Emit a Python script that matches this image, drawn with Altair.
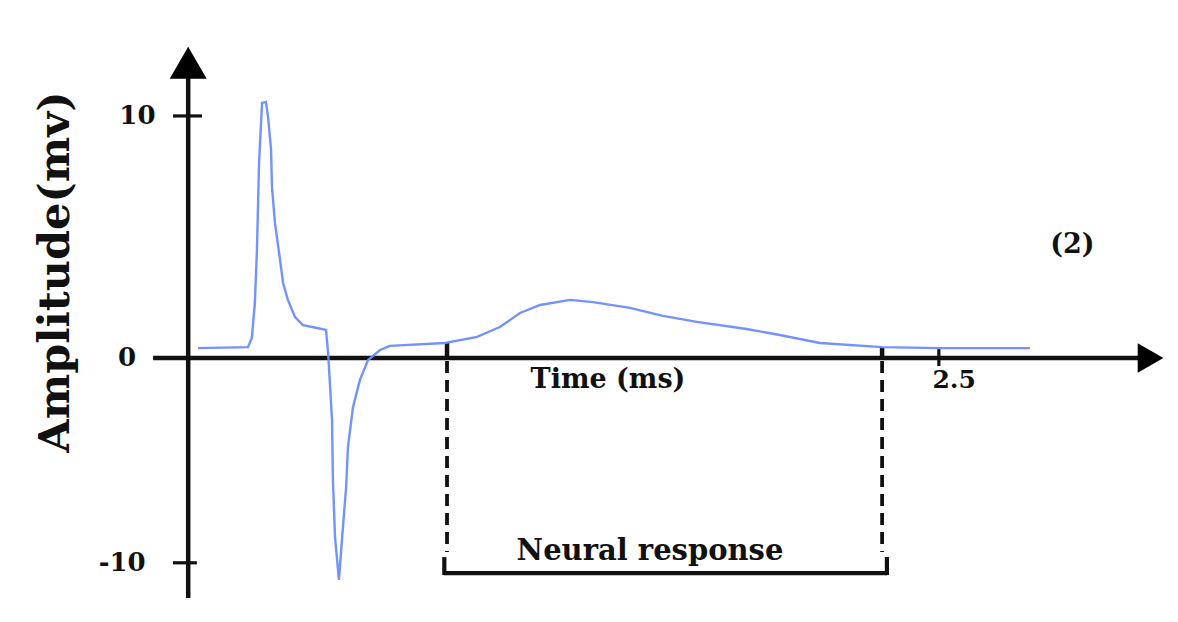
import altair as alt
import pandas as pd

# ---- data ----
time_ms = [0.033, 0.199, 0.212, 0.222, 0.229, 0.236, 0.246, 0.259, 0.266, 0.276,
           0.279, 0.289, 0.306, 0.316, 0.332, 0.356, 0.382, 0.429, 0.459, 0.466,
           0.479, 0.482, 0.489, 0.502, 0.512, 0.526, 0.532, 0.549, 0.572, 0.599,
           0.639, 0.672, 0.855, 0.962, 1.038, 1.105, 1.172, 1.272, 1.348, 1.471,
           1.581, 1.694, 1.860, 1.970, 2.104, 2.311, 2.504, 2.803]
amplitude_mv = [0.41, 0.45, 0.83, 2.27, 4.46, 8.06, 10.54, 10.58, 9.96, 8.60,
                7.07, 5.58, 4.05, 3.10, 2.40, 1.69, 1.36, 1.24, 1.16, 0.21,
                -3.03, -5.96, -8.74, -10.84, -8.89, -6.30, -4.35, -2.39, -1.07, -0.10,
                0.33, 0.50, 0.62, 0.87, 1.28, 1.86, 2.19, 2.40, 2.31, 2.07,
                1.74, 1.49, 1.20, 0.95, 0.62, 0.45, 0.41, 0.41]

y_tick_values = [10, 0, -10]
y_tick_labels = ["10", "0", "-10"]
x_tick_values = [2.5]
x_tick_labels = ["2.5"]
response_start_ms = 0.862
response_end_ms = 2.311

W, H = 1162, 606
XS = alt.Scale(domain=[-0.6001, 3.2698], nice=False, zero=False)
YS = alt.Scale(domain=[-12.5, 0, 14.46], range=[H, 350, 0], nice=False, zero=False)
INK = "#111111"
FONT = "DejaVu Serif"


def segments(rows, width, dash=None, color=INK):
    df = pd.DataFrame(rows, columns=["x", "x2", "y", "y2"])
    kw = dict(color=color, strokeWidth=width, strokeCap="butt")
    if dash:
        kw["strokeDash"] = dash
    return alt.Chart(df).mark_rule(**kw).encode(
        x=alt.X("x:Q", scale=XS, axis=None),
        x2="x2:Q",
        y=alt.Y("y:Q", scale=YS, axis=None),
        y2="y2:Q",
    )


def texts(rows, size, angle=0, color=INK):
    df = pd.DataFrame(rows, columns=["x", "y", "t"])
    return alt.Chart(df).mark_text(
        font=FONT, fontWeight="bold", fontSize=size, color=color,
        align="center", baseline="middle", angle=angle,
    ).encode(
        x=alt.X("x:Q", scale=XS, axis=None),
        y=alt.Y("y:Q", scale=YS, axis=None),
        text="t:N",
    )


# axes lines
axes = segments([[0, 0, -11.72, 11.7], [-0.117, 3.19, 0, 0]], 4.5)
# tick marks
ticks = segments(
    [[-0.0506, 0.046, y_tick_values[0], y_tick_values[0]],
     [-0.0506, 0.029, y_tick_values[2], y_tick_values[2]]]
    + [[v, v, 0.37, -0.39] for v in x_tick_values], 3.2)
# short solid marks where the response window meets the curve
marks_top = segments(
    [[response_start_ms, response_start_ms, 0, 0.62],
     [response_end_ms, response_end_ms, 0, 0.45]], 4.5)
# dashed verticals
dashed = segments(
    [[response_start_ms, response_start_ms, -0.15, -9.47],
     [response_end_ms, response_end_ms, -0.15, -9.47]], 3.8, dash=[12, 7])
# bracket
bl, br = response_start_ms - 0.009, response_end_ms + 0.016
bracket = segments(
    [[bl, br, -10.5, -10.5], [bl, bl, -9.72, -10.6], [br, br, -9.72, -10.6]], 4.2)

signal = alt.Chart(pd.DataFrame({"t": time_ms, "a": amplitude_mv,
                                 "i": range(len(time_ms))})).mark_line(
    color="#6a8cff", strokeWidth=2.4, opacity=0.95
).encode(
    x=alt.X("t:Q", scale=XS, axis=None),
    y=alt.Y("a:Q", scale=YS, axis=None),
    order="i:Q",
)

arrow_up = alt.Chart(pd.DataFrame({"x": [0], "y": [12.2]})).mark_point(
    shape="triangle-up", filled=True, size=1369, color="black", opacity=1
).encode(x=alt.X("x:Q", scale=XS, axis=None), y=alt.Y("y:Q", scale=YS, axis=None))

arrow_right = alt.Chart(pd.DataFrame({"x": [3.205], "y": [0]})).mark_point(
    shape="triangle-right", filled=True, size=880, color="black", opacity=1
).encode(x=alt.X("x:Q", scale=XS, axis=None), y=alt.Y("y:Q", scale=YS, axis=None))

y_labels = texts([[-0.169, y_tick_values[0], y_tick_labels[0]],
                  [-0.204, y_tick_values[1], y_tick_labels[1]],
                  [-0.22, y_tick_values[2], y_tick_labels[2]]], 26)
x_labels = texts([[2.551, -1.07, x_tick_labels[0]]], 25)
x_title = texts([[1.398, -1.07, "Time (ms)"]], 27)
y_title = texts([[-0.4386, 3.55, "Amplitude(mv)"]], 43, angle=270)
window_label = texts([[1.538, -9.42, "Neural response"]], 29)
panel_label = texts([[2.945, 4.67, "(2)"]], 27)

chart = alt.layer(
    axes, ticks, marks_top, dashed, bracket, signal, arrow_up, arrow_right,
    y_labels, x_labels, x_title, y_title, window_label, panel_label,
).properties(
    width=W, height=H, padding=0, autosize=alt.AutoSizeParams(type="none"),
    background="white",
).configure_view(stroke=None)

chart.save("out.html", embed_options={"renderer": "svg", "actions": False})
